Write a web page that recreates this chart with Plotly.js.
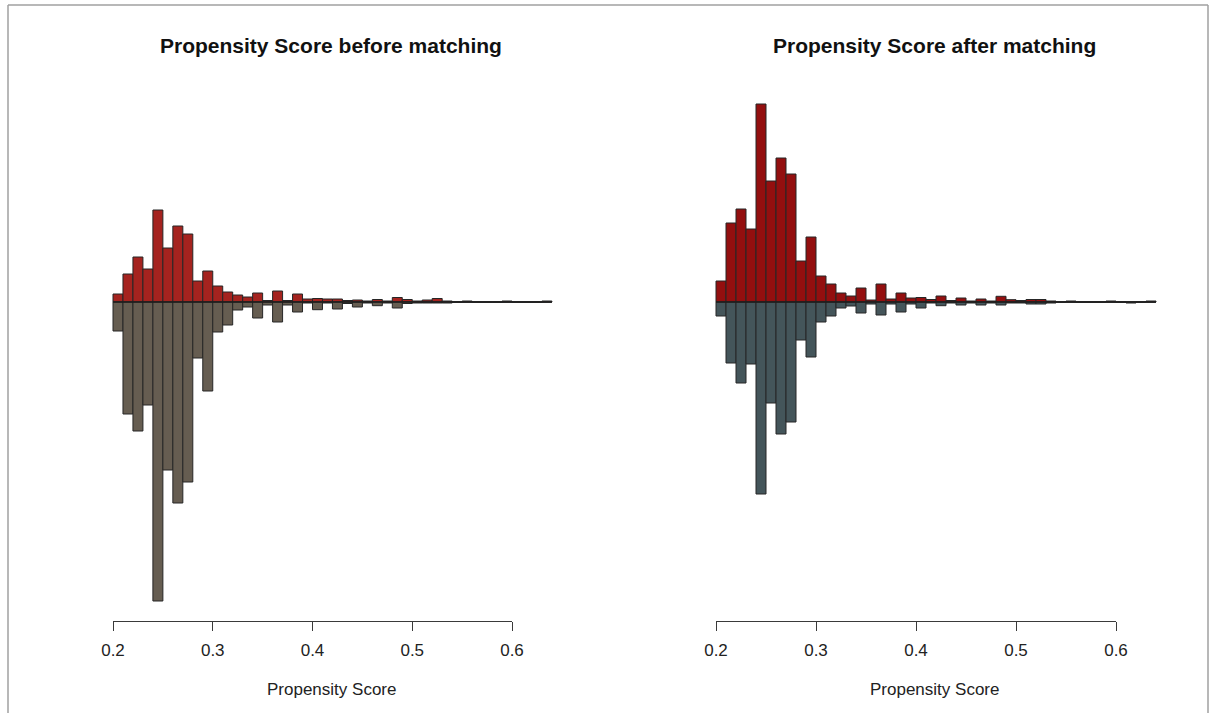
<!DOCTYPE html>
<html>
<head>
<meta charset="utf-8">
<script src="https://cdn.plot.ly/plotly-3.0.1.min.js"></script>
<style>html,body{margin:0;padding:0;background:#fff;}#chart{width:1214px;height:713px;}</style>
</head>
<body>
<div id="chart"></div>
<script>
// Bin left edges (width 0.01)
var binStarts = [0.20,0.21,0.22,0.23,0.24,0.25,0.26,0.27,0.28,0.29,
                 0.30,0.31,0.32,0.33,0.34,0.35,0.36,0.37,0.38,0.39,
                 0.40,0.41,0.42,0.43,0.44,0.45,0.46,0.47,0.48,0.49,
                 0.50,0.51,0.52,0.53,0.54,0.55,0.56,0.57,0.58,0.59,
                 0.60,0.61,0.62,0.63];
var binWidth = 0.01;

// Before matching: treated (upper, red) and control (lower, grey)
var beforeTreated = [8,28,45,33,92,54,76,68,21,31,
                     16,10,7,5,9,1.5,11,1.5,8,3,
                     3.5,3,3,1.5,2,1,2.5,1,4.5,2.5,
                     1,2,3.5,1,0,1,0,0,0,1,
                     0,0,0,1];
var beforeControl = [29,112,129,103,299,168,201,180,56,89,
                     30,23,8,5,16,3,20,3,10,1,
                     7.7,1,7,1.5,5,1,3.7,1,6,1.5,
                     1,1,1,1,0,0,0,0,0,0,
                     0,0,0,0];

// After matching
var afterTreated = [21,79,93,73,198,121,144,128,41,65,
                    26,18,9,6,14,2,18,3,9,4,
                    4.5,2.5,6,1.5,4,1,3,1,5.7,2.3,
                    1.5,2.5,2.5,1,0,1,0,0,0,1,
                    0,0,0,1];
var afterControl = [14,61,81,62,192,101,132,120,38,55,
                    20,14,6,4,11,2,13,2,10,2,
                    6,1,3.7,1,3,1,3,1,3,1,
                    1,2,2,1,0,0,0,0,0,0,
                    0,1,0,0];

var tickVals = [0.2,0.3,0.4,0.5,0.6];
var tickText = ['0.2','0.3','0.4','0.5','0.6'];
var panelTitles = ['Propensity Score before matching','Propensity Score after matching'];
var axisLabel = 'Propensity Score';

var centers = binStarts.map(function(b){ return b + binWidth/2; });
var neg = function(a){ return a.map(function(v){ return -v; }); };

var outline = {color:'#262626', width:1};
function barTrace(vals, color, xa, ya){
  return {type:'bar', x:centers, y:vals, width:binWidth, xaxis:xa, yaxis:ya,
          marker:{color:color, line:outline}, hoverinfo:'skip', showlegend:false};
}

var data = [
  barTrace(beforeTreated, '#A5231F', 'x', 'y'),
  barTrace(neg(beforeControl), '#665D51', 'x', 'y'),
  barTrace(afterTreated, '#930F0F', 'x2', 'y2'),
  barTrace(neg(afterControl), '#44555A', 'x2', 'y2'),
  {type:'scatter', x:[], y:[], xaxis:'x3', yaxis:'y', showlegend:false, hoverinfo:'skip'},
  {type:'scatter', x:[], y:[], xaxis:'x4', yaxis:'y2', showlegend:false, hoverinfo:'skip'}
];

var W = 1214, H = 713;
function px(x){ return x / W; }
function py(y){ return 1 - y / H; }

var yDom = [py(602), py(2)];
var tickAxis = function(x0, x1){
  return {domain:[px(x0), px(x1)], range:[0.2, 0.6], anchor:'free', position:py(621),
          showline:true, linecolor:'#3a3a3a', linewidth:1, ticks:'outside', ticklen:9,
          tickwidth:1, tickcolor:'#3a3a3a', tickvals:tickVals, ticktext:tickText,
          showgrid:false, zeroline:false, fixedrange:true, ticklabelstandoff:5,
          tickfont:{family:'Liberation Sans, Arial, sans-serif', size:17, color:'#222'}};
};
var hiddenX = function(x0, x1){
  return {domain:[px(x0), px(x1)], range:[0.18, 0.66], visible:false, fixedrange:true};
};
var hiddenY = function(anchor){
  return {domain:yDom, range:[-300, 300], visible:false, fixedrange:true, anchor:anchor};
};

var lastEdge = binStarts[binStarts.length-1] + binWidth;
var baseLine = function(xr, yr){
  return {type:'line', xref:xr, yref:yr, x0:binStarts[0], x1:lastEdge, y0:0, y1:0,
          line:{color:'#1e1e1e', width:1.5}, layer:'above'};
};
var borderColor = '#a0a0a0';

var layout = {
  width:W, height:H, autosize:false,
  margin:{l:0, r:0, t:0, b:0},
  paper_bgcolor:'#fff', plot_bgcolor:'rgba(0,0,0,0)',
  barmode:'overlay', bargap:0,
  showlegend:false,
  xaxis: hiddenX(113 - 0.02*997.5, 113 + 0.46*997.5),
  yaxis: hiddenY('x'),
  xaxis2: hiddenX(696, 1176),
  yaxis2: hiddenY('x2'),
  xaxis3: tickAxis(113, 512),
  xaxis4: tickAxis(716, 1116),
  font:{family:'Liberation Sans, Arial, sans-serif', color:'#222'},
  shapes:[
    baseLine('x','y'),
    baseLine('x2','y2'),
    {type:'line', xref:'paper', yref:'paper', x0:px(8), x1:px(8), y0:0, y1:py(5), line:{color:borderColor, width:1.5}},
    {type:'line', xref:'paper', yref:'paper', x0:px(8), x1:px(1208), y0:py(5), y1:py(5), line:{color:borderColor, width:1.5}},
    {type:'line', xref:'paper', yref:'paper', x0:px(1208), x1:px(1208), y0:0, y1:py(5), line:{color:borderColor, width:1.5}}
  ],
  annotations:[
    {text:panelTitles[0], xref:'paper', yref:'paper', x:px(330.5), y:py(46), showarrow:false,
     xanchor:'center', yanchor:'middle', font:{size:21, weight:700, color:'#111'}},
    {text:panelTitles[1], xref:'paper', yref:'paper', x:px(934.5), y:py(46), showarrow:false,
     xanchor:'center', yanchor:'middle', font:{size:21, weight:700, color:'#111'}},
    {text:axisLabel, xref:'paper', yref:'paper', x:px(331), y:py(689), showarrow:false,
     xanchor:'center', yanchor:'middle', font:{size:17, color:'#222'}},
    {text:axisLabel, xref:'paper', yref:'paper', x:px(934.5), y:py(689), showarrow:false,
     xanchor:'center', yanchor:'middle', font:{size:17, color:'#222'}}
  ]
};

Plotly.newPlot('chart', data, layout, {displayModeBar:false, staticPlot:true});
</script>
</body>
</html>
